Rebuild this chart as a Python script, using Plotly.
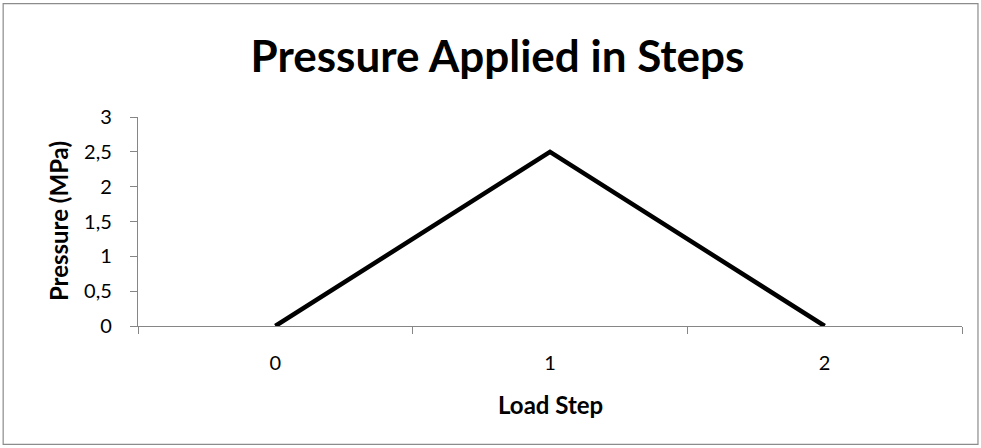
import plotly.graph_objects as go

load_steps = ["0", "1", "2"]
pressure = [0, 2.5, 0]
y_tick_vals = [0, 0.5, 1, 1.5, 2, 2.5, 3]
y_tick_text = ["0", "0,5", "1", "1,5", "2", "2,5", "3"]

W, H = 981, 448
L, R, T, B = 137.5, 18.5, 116.5, 121.5
pw, ph = W - L - R, H - T - B

FONT = "Lato"
AX = "#868686"

fig = go.Figure()
fig.add_trace(go.Scatter(x=load_steps, y=pressure, mode="lines",
                         line=dict(color="black", width=4.5), hoverinfo="skip"))

fig.update_layout(
    width=W, height=H,
    margin=dict(l=L, r=R, t=T, b=B, pad=0),
    paper_bgcolor="white", plot_bgcolor="white",
    showlegend=False,
    font=dict(family=FONT, color="black"),
    title=dict(text="<b>Pressure Applied in Steps</b>", x=497.5 / W, xref="container", xanchor="center",
               y=1 - 57 / H, yref="container", yanchor="middle",
               font=dict(family=FONT, size=44, color="black")),
    xaxis=dict(type="category", range=[-0.5, 2.5], tickson="boundaries",
               ticks="outside", ticklen=7, tickcolor=AX, tickwidth=1.3,
               showline=True, linecolor=AX, linewidth=1.3, showgrid=False, zeroline=False,
               tickfont=dict(size=20, family=FONT), ticklabelstandoff=19),
    yaxis=dict(range=[0, 3], tickvals=y_tick_vals, ticktext=y_tick_text,
               ticks="outside", ticklen=7, tickcolor=AX, tickwidth=1.3,
               showline=True, linecolor=AX, linewidth=1.3, showgrid=False, zeroline=False,
               tickfont=dict(size=20, family=FONT), ticklabelstandoff=14),
    annotations=[
        dict(text="<b>Load Step</b>", xref="paper", yref="paper",
             x=0.5, y=(H - B - 405) / ph, xanchor="center", yanchor="middle",
             showarrow=False, font=dict(size=24, family=FONT, color="black")),
        dict(text="<b>Pressure (MPa)</b>", xref="paper", yref="paper",
             x=(58 - L) / pw, y=0.5, xanchor="center", yanchor="middle", textangle=-90,
             showarrow=False, font=dict(size=24, family=FONT, color="black")),
    ],
)

# chart border
fig.add_shape(type="rect", xref="paper", yref="paper",
              x0=(2.5 - L) / pw, x1=(978.5 - L) / pw,
              y0=(H - B - 445.5) / ph, y1=(H - B - 2.5) / ph,
              line=dict(color="#8c8c8c", width=1.2), fillcolor="rgba(0,0,0,0)", layer="below")

fig.write_html("out.html", config={"displayModeBar": False},
               post_script="document.body.style.margin='0';document.body.style.padding='0';")
